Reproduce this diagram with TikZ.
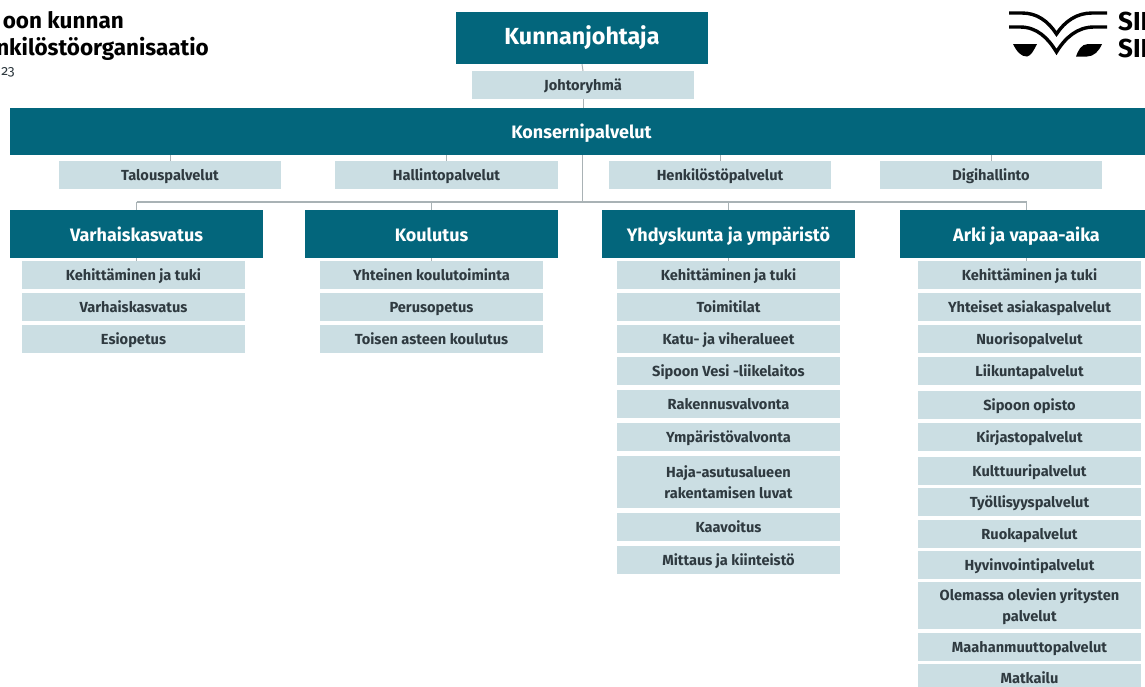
\documentclass[tikz,border=0pt]{standalone}
\usepackage{fontspec}
\setmainfont{Fira Sans}
\definecolor{teal1}{HTML}{03667C}
\definecolor{pale}{HTML}{CBDEE3}
\definecolor{ink}{HTML}{2F3A40}
\definecolor{linec}{HTML}{A9B2B5}
\tikzset{
 x=1pt,y=-1pt,
 head/.style={fill=teal1,text=white,font=\fontsize{18}{21}\selectfont\bfseries,inner sep=0pt,align=center},
 top/.style={head,font=\fontsize{23.3}{27}\selectfont\bfseries},
 sub/.style={fill=pale,text=ink,font=\fontsize{14.6}{21}\selectfont\bfseries,inner sep=0pt,align=center},
 conn/.style={draw=linec,line width=1pt},
 titletext/.style={inner sep=0pt,text=black,font=\fontsize{22.5}{26}\selectfont\bfseries},
 logostroke/.style={draw=black,line width=3.4pt},
}
\newcommand{\mystrut}{\rule{0pt}{1em}\rule[-0.18em]{0pt}{0.18em}}
\newcommand{\mybox}[7]{\node[#1,minimum width=(#4-#3)*1pt,minimum height=(#6-#5)*1pt] (#2) at ({(#3+#4)/2},{(#5+#6)/2}) {\mystrut #7\mystrut};}
\begin{document}
\begin{tikzpicture}
\useasboundingbox (0,0) rectangle (1145,686);
\clip (0,0) rectangle (1145,686);
\fill[white] (0,0) rectangle (1145,686);
% top
\mybox{top}{kj}{456}{708}{12}{64}{\raisebox{3pt}{Kunnanjohtaja}}
\mybox{sub}{jr}{472}{694}{71}{99}{Johtoryhmä}
\mybox{head}{kons}{10}{1153}{108}{155}{Konsernipalvelut}
\mybox{sub}{tal}{59}{281}{161}{189}{Talouspalvelut}
\mybox{sub}{hal}{335}{558}{161}{189}{Hallintopalvelut}
\mybox{sub}{hen}{609}{831}{161}{189}{Henkilöstöpalvelut}
\mybox{sub}{dig}{880}{1102}{161}{189}{Digihallinto}
% heads
\mybox{head}{var}{10}{263}{210}{258}{Varhaiskasvatus}
\mybox{head}{kou}{305}{558}{210}{258}{Koulutus}
\mybox{head}{yhd}{602}{855}{210}{258}{Yhdyskunta ja ympäristö}
\mybox{head}{ark}{900}{1153}{210}{258}{Arki ja vapaa-aika}
% column 1
\mybox{sub}{va}{22}{245}{261}{289}{Kehittäminen ja tuki}
\mybox{sub}{vb}{22}{245}{293}{321}{Varhaiskasvatus}
\mybox{sub}{vc}{22}{245}{325}{353}{Esiopetus}
% column 2
\mybox{sub}{ka}{320}{543}{261}{289}{Yhteinen koulutoiminta}
\mybox{sub}{kb}{320}{543}{293}{321}{Perusopetus}
\mybox{sub}{kc}{320}{543}{325}{353}{Toisen asteen koulutus}
% column 3
\mybox{sub}{ya}{617}{840}{261}{289}{Kehittäminen ja tuki}
\mybox{sub}{yb}{617}{840}{293}{321}{Toimitilat}
\mybox{sub}{yc}{617}{840}{325}{353}{Katu- ja viheralueet}
\mybox{sub}{yd}{617}{840}{357}{385}{Sipoon Vesi -liikelaitos}
\mybox{sub}{ye}{617}{840}{390}{418}{Rakennusvalvonta}
\mybox{sub}{yf}{617}{840}{423}{451}{Ympäristövalvonta}
\mybox{sub}{yg}{617}{840}{456}{508}{Haja-asutusalueen\\rakentamisen luvat}
\mybox{sub}{yh}{617}{840}{513}{541}{Kaavoitus}
\mybox{sub}{yi}{617}{840}{546}{574}{Mittaus ja kiinteistö}
% column 4
\mybox{sub}{aa}{918}{1141}{261}{289}{Kehittäminen ja tuki}
\mybox{sub}{ab}{918}{1141}{293}{321}{Yhteiset asiakaspalvelut}
\mybox{sub}{ac}{918}{1141}{325}{353}{Nuorisopalvelut}
\mybox{sub}{ad}{918}{1141}{357}{385}{Liikuntapalvelut}
\mybox{sub}{ae}{918}{1141}{391}{419}{Sipoon opisto}
\mybox{sub}{af}{918}{1141}{423}{451}{Kirjastopalvelut}
\mybox{sub}{ag}{918}{1141}{457}{485}{Kulttuuripalvelut}
\mybox{sub}{ah}{918}{1141}{488}{516}{Työllisyyspalvelut}
\mybox{sub}{ai}{918}{1141}{520}{548}{Ruokapalvelut}
\mybox{sub}{aj}{918}{1141}{551}{579}{Hyvinvointipalvelut}
\mybox{sub}{ak}{918}{1141}{582}{629}{Olemassa olevien yritysten\\palvelut}
\mybox{sub}{al}{918}{1141}{633}{661}{Maahanmuuttopalvelut}
\mybox{sub}{am}{918}{1141}{664}{692}{Matkailu}
% connectors
\draw[conn] (kj.south) -- (jr.north);
\draw[conn] (jr.south) -- (jr.south |- kons.north);
\foreach \n in {tal,hal,hen,dig} \draw[conn] (\n.north) -- (\n.north |- kons.south);
\coordinate (trunk) at (582,202);
\draw[conn] (trunk |- kons.south) -- (trunk);
\draw[conn,line width=1.4pt] (var.north |- trunk) -- (ark.north |- trunk);
\foreach \n in {var,kou,yhd,ark} \draw[conn] (\n.north |- trunk) -- (\n.north);
\draw[conn] (var.south) -- (var.south |- va.north);
\draw[conn] (kou.south) -- (kou.south |- ka.north);
\draw[conn] (yhd.south) -- (yhd.south |- ya.north);
\draw[conn] (ark.south) -- (ark.south |- aa.north);
% title
\node[titletext,anchor=east] (t1) at (124,20) {oon kunnan};
\node[titletext,anchor=east] (t2) at (209,49) {nkilöstöorganisaatio};
\node[inner sep=0pt,anchor=east,font=\fontsize{14}{16}\selectfont\addfontfeature{Numbers=OldStyle},text=ink] (t3) at (15,72) {23};
% logo
\draw[logostroke] (1009,13) -- (1022,13) .. controls (1037,13) and (1048,21) .. (1056.5,34) .. controls (1065,21) and (1077,13) .. (1092,13) -- (1107,13);
\draw[logostroke] (1009,27) -- (1020,27) .. controls (1037,27) and (1048,38) .. (1056.5,52) .. controls (1065,38) and (1077,27) .. (1094,27) -- (1107,27);
\fill (1013,44) -- (1037,44) .. controls (1034,50) and (1031,56) .. (1027,56.5) .. controls (1021,56.5) and (1017,52) .. cycle;
\fill (1102,44) -- (1088,44) .. controls (1081,44) and (1078,51) .. (1076,56.5) -- (1087,56.5) .. controls (1094,56.5) and (1099,51) .. cycle;
\node[inner sep=0pt,anchor=west,font=\fontsize{26}{30}\selectfont\bfseries] (s1) at (1118,21) {SII};
\node[inner sep=0pt,anchor=west,font=\fontsize{26}{30}\selectfont\bfseries] (s2) at (1118,48) {SII};
\end{tikzpicture}
\end{document}
